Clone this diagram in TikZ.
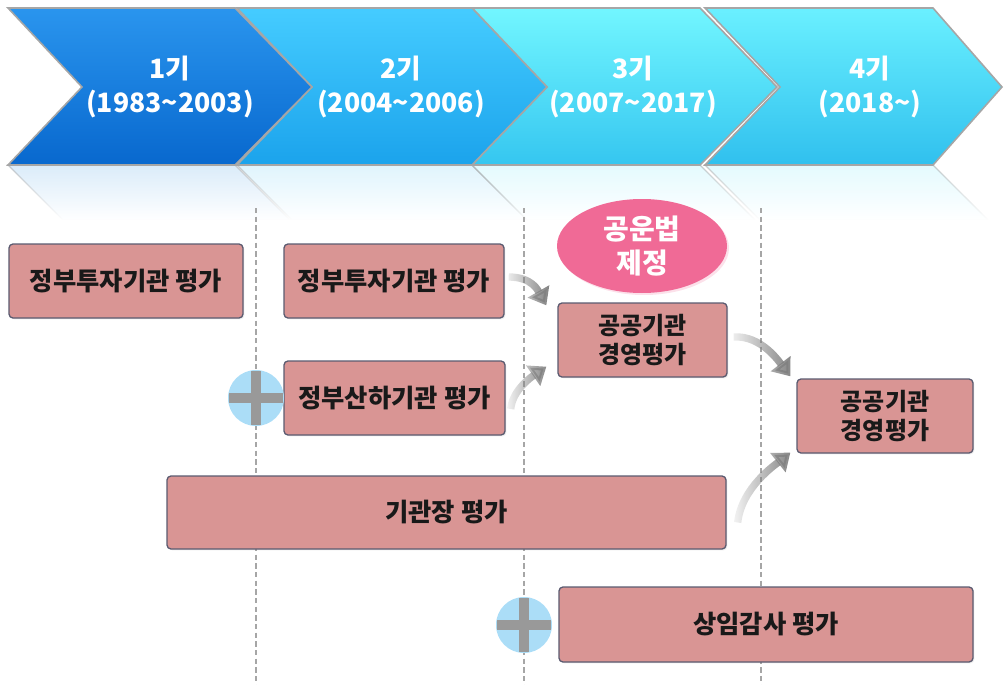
\documentclass[tikz,border=0pt]{standalone}
\usepackage{fontspec}
\newfontfamily\kr{Noto Sans CJK KR}
\usetikzlibrary{shapes.geometric,arrows.meta,fadings,shadows,calc}
\definecolor{boxfill}{HTML}{D99594}
\definecolor{boxline}{HTML}{5B5B70}
\definecolor{plusblue}{HTML}{ABDDF7}
\definecolor{pinkc}{HTML}{F06A96}
\definecolor{cAt}{HTML}{2A95EE}\definecolor{cAb}{HTML}{0868CE}
\definecolor{cBt}{HTML}{45CCFF}\definecolor{cBb}{HTML}{1BA3EC}
\definecolor{cCt}{HTML}{72F6FF}\definecolor{cCb}{HTML}{35C6F0}
\definecolor{cDt}{HTML}{6AF0FF}\definecolor{cDb}{HTML}{30C0EE}
\definecolor{rA}{HTML}{B5D8F4}\definecolor{rB}{HTML}{BFE9FB}\definecolor{rC}{HTML}{C8F5FD}
\tikzfading[name=arrowfade, left color=transparent!90, right color=transparent!0]
\tikzfading[name=reflfade, top color=transparent!50, bottom color=transparent!100]
\begin{document}
\begin{tikzpicture}[x=0.75pt,y=-0.75pt,
  box/.style={draw=boxline, line width=1pt, fill=boxfill, rounded corners=3pt,
    font=\kr\bfseries\fontsize{19}{23}\selectfont, text=black!90, align=center, inner sep=0pt,
    drop shadow={shadow xshift=1pt, shadow yshift=-1pt, opacity=0.15}},
  box2/.style={box, font=\kr\bfseries\fontsize{18}{21.5}\selectfont},
  chevtext/.style={text=white, font=\kr\bfseries\fontsize{20}{25}\selectfont, align=center},
  chevron/.style={draw=black!35, line width=1.2pt},
  refl/.style={path fading=reflfade, draw=black!40, line width=1pt},
  dashline/.style={draw=black!35, line width=1.1pt, dash pattern=on 4pt off 2.5pt},
  garrow/.style={line width=5.5pt, draw=black!50, -{Triangle[length=12pt,width=18pt]}, path fading=arrowfade},
  pluscirc/.style={circle, minimum size=42pt, inner sep=0pt, fill=plusblue,
    path picture={
      \draw[black!40, line width=7.5pt] ([xshift=-20pt]path picture bounding box.center) -- ([xshift=20pt]path picture bounding box.center);
      \draw[black!40, line width=7.5pt] ([yshift=-20pt]path picture bounding box.center) -- ([yshift=20pt]path picture bounding box.center);}},
]
\useasboundingbox (0,0) rectangle (1008,685);

% reflections
\fill[rA, refl] (8,165) -- (235,165) -- (290,220) -- (63,220) -- cycle;
\fill[rB, refl] (237,165) -- (472,165) -- (527,220) -- (292,220) -- cycle;
\fill[rC, refl] (472,165) -- (700,165) -- (755,220) -- (527,220) -- cycle;
\fill[rC, refl] (705,165) -- (933,165) -- (988,220) -- (760,220) -- cycle;

% chevrons
\path[chevron, top color=cDt, bottom color=cDb] (705,8) -- (933,8) -- (1002,87) -- (933,165) -- (705,165) -- (780,87) -- cycle;
\path[chevron, top color=cCt, bottom color=cCb] (472,8) -- (700,8) -- (777,87) -- (700,165) -- (472,165) -- (547,87) -- cycle;
\path[chevron, top color=cBt, bottom color=cBb] (237,8) -- (472,8) -- (547,87) -- (472,165) -- (237,165) -- (312,87) -- cycle;
\path[chevron, top color=cAt, bottom color=cAb] (8,8) -- (235,8) -- (312,87) -- (235,165) -- (8,165) -- (82,87) -- cycle;

\node[chevtext] (t1) at (170,87) {1기\\(1983\textasciitilde 2003)};
\node[chevtext] (t2) at (401,87) {2기\\(2004\textasciitilde 2006)};
\node[chevtext] (t3) at (633,87) {3기\\(2007\textasciitilde 2017)};
\node[chevtext] (t4) at (870,87) {4기\\(2018\textasciitilde)};

% dashed separators
\coordinate (d1t) at (256,208); \coordinate (d1b) at (256,685);
\coordinate (d2t) at (524,208); \coordinate (d2b) at (524,685);
\coordinate (d3t) at (761,208); \coordinate (d3b) at (761,685);
\draw[dashline] (d1t) -- (d1b);
\draw[dashline] (d2t) -- (d2b);
\draw[dashline] (d3t) -- (d3b);

% law ellipse
\node[ellipse, minimum width=127.5pt, minimum height=70.5pt, inner sep=0pt, fill=pinkc,
  text=white, font=\kr\bfseries\fontsize{21}{25}\selectfont, align=center,
  drop shadow={fill=pinkc!40, opacity=0.5, shadow xshift=1.5pt, shadow yshift=-1.5pt}] (law) at (642,246) {공운법\\제정};

% boxes
\node[box, minimum width=175.5pt, minimum height=55.5pt] (A) at (126,281) {정부투자기관 평가};
\node[box, minimum width=165pt, minimum height=55.5pt] (B) at (394,281) {정부투자기관 평가};
\node[box, minimum width=165.75pt, minimum height=55.5pt] (C) at (394.5,398) {정부산하기관 평가};
\node[box2, minimum width=126.75pt, minimum height=55.5pt] (D) at (642.5,340) {공공기관\\경영평가};
\node[box2, minimum width=132pt, minimum height=55.5pt] (E) at (885,416) {공공기관\\경영평가};
\node[box, minimum width=419.25pt, minimum height=54.75pt] (F) at (446.5,512.5) {기관장 평가};
\node[box, minimum width=310.5pt, minimum height=56.25pt] (G) at (766,624.5) {상임감사 평가};

% plus circles
\node[pluscirc] (p1) at (256,398) {};
\node[pluscirc] (p2) at (524,625) {};

% curved arrows
\draw[garrow] ([shift={(4,-4)}]B.east) .. controls +(24,0) and +(-8,-14) .. ([shift={(-11,3)}]D.north west);
\draw[garrow] ([shift={(5,11)}]C.east) .. controls +(2,-20) and +(-13,9) .. ([shift={(-11,-11)}]D.south west);
\draw[garrow] ([shift={(6,-3)}]D.east) .. controls +(28,-2) and +(-10,-13) .. ([shift={(-6,-2)}]E.north west);
\draw[garrow] ([shift={(11,10)}]F.east) .. controls +(4,-35) and +(-15,12) .. ([shift={(-6,-1)}]E.south west);
\end{tikzpicture}
\end{document}
